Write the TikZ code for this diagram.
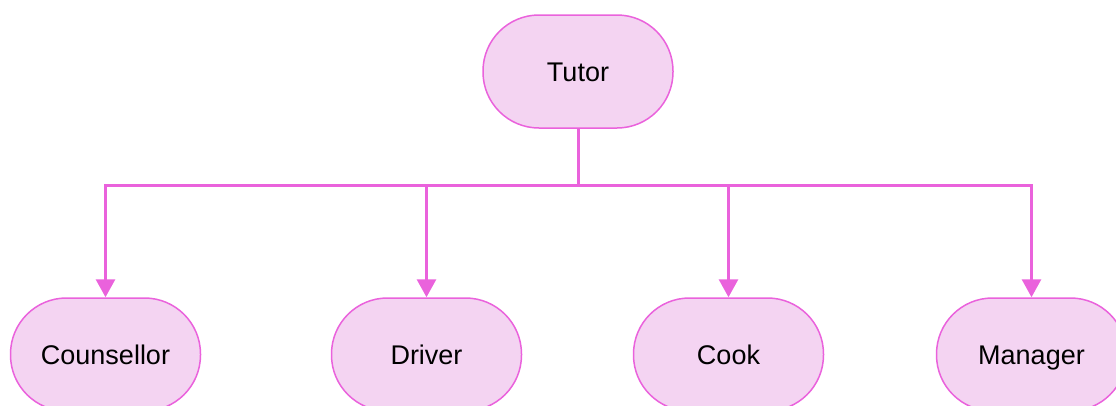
\documentclass[tikz,border=0pt]{standalone}
\usepackage{fontspec}
\setmainfont{Liberation Sans}
\usetikzlibrary{arrows.meta}
\definecolor{nodefill}{RGB}{244,212,242}
\definecolor{nodeline}{RGB}{234,98,220}
\tikzset{
  pill/.style={draw=nodeline, line width=1.5pt, fill=nodefill, rounded corners=56pt,
    minimum width=190pt, minimum height=113pt, inner sep=0pt, font=\fontsize{27}{32}\selectfont, text=black,
    text height=20pt, text depth=0.6pt},
  conn/.style={draw=nodeline, line width=3pt},
  arr/.style={conn, -{Triangle[length=18pt,width=19pt]}}
}
\begin{document}
\begin{tikzpicture}[x=1pt,y=-1pt]
\useasboundingbox (0,0) rectangle (1116,405);
\node[pill] (tutor) at (578,71.5) {Tutor};
\node[pill] (counsellor) at (105.5,354.5) {Counsellor};
\node[pill] (driver) at (426.5,354.5) {Driver};
\node[pill] (cook) at (728.5,354.5) {Cook};
\node[pill] (manager) at (1031.5,354.5) {Manager};
\coordinate (bus) at (578,185);
\draw[conn] (tutor.south) -- (bus);
\draw[arr] (bus) -| (counsellor.north);
\draw[arr] (bus) -| (driver.north);
\draw[arr] (bus) -| (cook.north);
\draw[arr] (bus) -| (manager.north);
\end{tikzpicture}
\end{document}
